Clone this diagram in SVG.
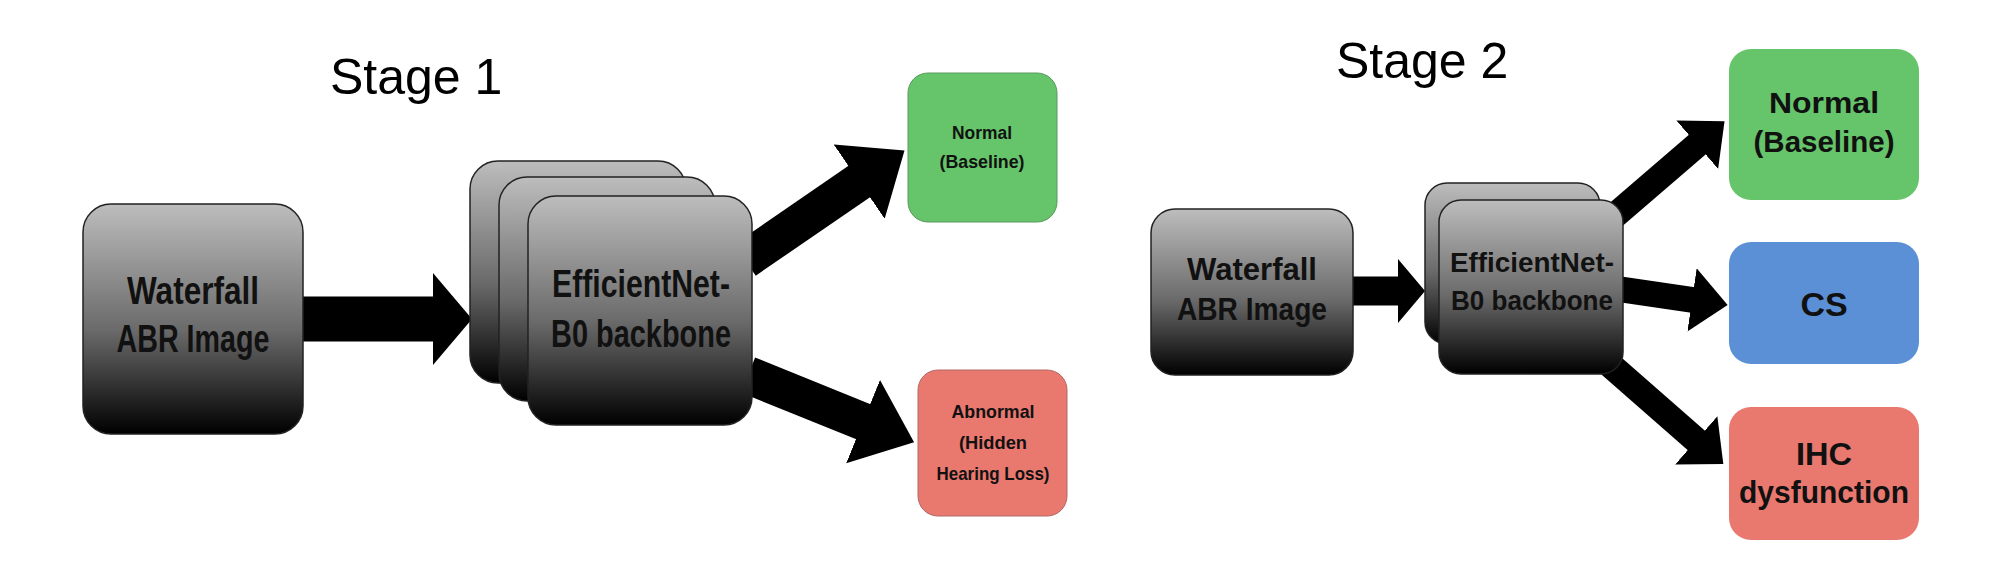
<svg xmlns="http://www.w3.org/2000/svg" width="1992" height="568" viewBox="0 0 1992 568">
<style>
.t{font-family:"Liberation Sans",Arial,sans-serif;fill:#000}
.b{font-family:"Liberation Sans",Arial,sans-serif;font-weight:bold;fill:#111;text-anchor:middle}
.g{fill:url(#gr);stroke:#222;stroke-width:1.5}
.c{stroke:#000;fill:none}
</style>
<defs>
<linearGradient id="gr" x1="0" y1="0" x2="0" y2="1"><stop offset="0" stop-color="#bdbdbd"/><stop offset="0.55" stop-color="#6a6a6a"/><stop offset="1" stop-color="#000"/></linearGradient>
<marker id="h1" markerUnits="userSpaceOnUse" orient="auto" markerWidth="60" markerHeight="100" refX="1" refY="45" viewBox="0 0 60 100"><path d="M0,0 L55,45 L0,90 z"/></marker>
<marker id="h1h" markerUnits="userSpaceOnUse" orient="auto" markerWidth="45" markerHeight="100" refX="1" refY="46" viewBox="0 0 45 100"><path d="M0,0 L39,46 L0,92 z"/></marker>
<marker id="h2" markerUnits="userSpaceOnUse" orient="auto" markerWidth="40" markerHeight="70" refX="1" refY="32" viewBox="0 0 40 70"><path d="M0,0 L36,32 L0,64 z"/></marker>
<marker id="h2h" markerUnits="userSpaceOnUse" orient="auto" markerWidth="30" markerHeight="70" refX="1" refY="32" viewBox="0 0 30 70"><path d="M0,0 L27,32 L0,64 z"/></marker>
</defs>
<rect width="1992" height="568" fill="#fff"/>
<text class="t" x="330" y="94" font-size="50">Stage 1</text>
<text class="t" x="1336" y="78" font-size="50">Stage 2</text>
<g id="connectors">
<line class="c" x1="302" y1="319" x2="434" y2="319" stroke-width="45" marker-end="url(#h1h)"/>
<line class="c" x1="745" y1="260" x2="860" y2="181" stroke-width="38" marker-end="url(#h1)"/>
<line class="c" x1="748" y1="375" x2="864" y2="422" stroke-width="38" marker-end="url(#h1)"/>
<line class="c" x1="1353" y1="291" x2="1399" y2="291" stroke-width="29" marker-end="url(#h2h)"/>
<line class="c" x1="1612" y1="218" x2="1698" y2="144" stroke-width="26" marker-end="url(#h2)"/>
<line class="c" x1="1618" y1="289" x2="1693" y2="300" stroke-width="26" marker-end="url(#h2)"/>
<line class="c" x1="1600" y1="356" x2="1697" y2="441" stroke-width="26" marker-end="url(#h2)"/>
</g>
<g id="waterfall1"><rect class="g" x="83" y="204" width="220" height="230" rx="28"/>
<text class="b" x="193" y="304" font-size="38" textLength="132" lengthAdjust="spacingAndGlyphs">Waterfall</text>
<text class="b" x="193" y="352" font-size="38" textLength="153" lengthAdjust="spacingAndGlyphs">ABR Image</text></g>
<g id="backbone1">
<rect class="g" x="470" y="161" width="216" height="222" rx="28"/>
<rect class="g" x="499" y="177" width="216" height="224" rx="28"/>
<rect class="g" x="528" y="196" width="224" height="229" rx="28"/>
<text class="b" x="641" y="297" font-size="38" textLength="178" lengthAdjust="spacingAndGlyphs">EfficientNet-</text>
<text class="b" x="641" y="347" font-size="38" textLength="180" lengthAdjust="spacingAndGlyphs">B0 backbone</text></g>
<g id="normal1"><rect x="908" y="73" width="149" height="149" rx="20" fill="#66c46a" stroke="#5a9a5e"/>
<text class="b" x="982" y="139" font-size="19" textLength="60" lengthAdjust="spacingAndGlyphs">Normal</text>
<text class="b" x="982" y="168" font-size="19" textLength="85" lengthAdjust="spacingAndGlyphs">(Baseline)</text></g>
<g id="abnormal1"><rect x="918" y="370" width="149" height="146" rx="20" fill="#e9786f" stroke="#b06a66"/>
<text class="b" x="993" y="418" font-size="19" textLength="83" lengthAdjust="spacingAndGlyphs">Abnormal</text>
<text class="b" x="993" y="449" font-size="19" textLength="68" lengthAdjust="spacingAndGlyphs">(Hidden</text>
<text class="b" x="993" y="480" font-size="19" textLength="113" lengthAdjust="spacingAndGlyphs">Hearing Loss)</text></g>
<g id="waterfall2"><rect class="g" x="1151" y="209" width="202" height="166" rx="24"/>
<text class="b" x="1252" y="280" font-size="32" textLength="130" lengthAdjust="spacingAndGlyphs">Waterfall</text>
<text class="b" x="1252" y="320" font-size="32" textLength="150" lengthAdjust="spacingAndGlyphs">ABR Image</text></g>
<g id="backbone2">
<rect class="g" x="1425" y="183" width="175" height="161" rx="22"/>
<rect class="g" x="1439" y="200" width="184" height="174" rx="22"/>
<text class="b" x="1532" y="272" font-size="28" textLength="164" lengthAdjust="spacingAndGlyphs">EfficientNet-</text>
<text class="b" x="1532" y="310" font-size="28" textLength="162" lengthAdjust="spacingAndGlyphs">B0 backbone</text></g>
<g id="normal2"><rect x="1729" y="49" width="190" height="151" rx="22" fill="#66c46a"/>
<text class="b" x="1824" y="113" font-size="30" textLength="110" lengthAdjust="spacingAndGlyphs">Normal</text>
<text class="b" x="1824" y="152" font-size="30" textLength="141" lengthAdjust="spacingAndGlyphs">(Baseline)</text></g>
<g id="cs2"><rect x="1729" y="242" width="190" height="122" rx="22" fill="#5b8fd6"/>
<text class="b" x="1824" y="316" font-size="34">CS</text></g>
<g id="ihc2"><rect x="1729" y="407" width="190" height="133" rx="22" fill="#e9786f"/>
<text class="b" x="1824" y="465" font-size="32" textLength="56" lengthAdjust="spacingAndGlyphs">IHC</text>
<text class="b" x="1824" y="503" font-size="32" textLength="170" lengthAdjust="spacingAndGlyphs">dysfunction</text></g>
</svg>
